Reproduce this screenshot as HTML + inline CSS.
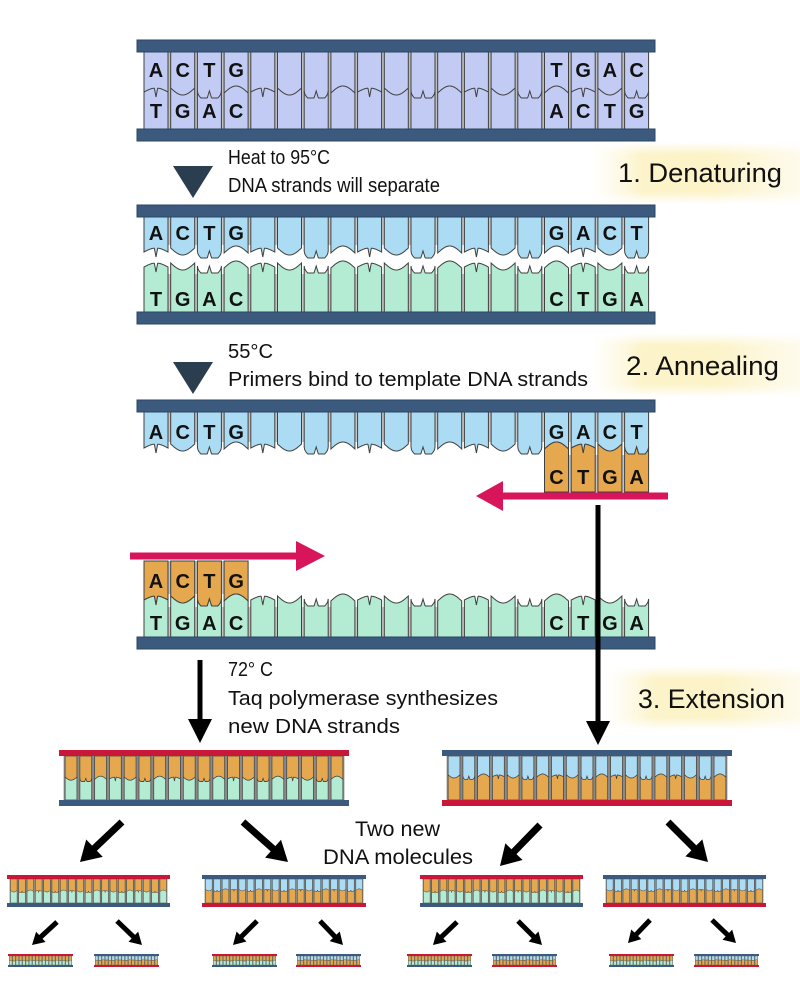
<!DOCTYPE html>
<html><head><meta charset="utf-8">
<style>
html,body{margin:0;padding:0;background:#fff;}
svg{display:block;}
text{font-family:"Liberation Sans",sans-serif;fill:#111;}
.b{font-weight:bold;font-size:20px;text-anchor:middle;}
</style></head>
<body>
<svg id="s" width="800" height="998" viewBox="0 0 800 998" xmlns="http://www.w3.org/2000/svg">
<defs>
<linearGradient id="gh" x1="0" y1="0" x2="1" y2="0">
<stop offset="0" stop-color="#fdf6d6" stop-opacity="0"/>
<stop offset="0.25" stop-color="#fcf2c4" stop-opacity="0.9"/>
<stop offset="0.6" stop-color="#fcf3c8" stop-opacity="1"/>
<stop offset="1" stop-color="#fefaea" stop-opacity="0.9"/>
</linearGradient>
<linearGradient id="gv" x1="0" y1="0" x2="0" y2="1">
<stop offset="0" stop-color="#fff" stop-opacity="0"/>
<stop offset="0.2" stop-color="#fff" stop-opacity="1"/>
<stop offset="0.8" stop-color="#fff" stop-opacity="1"/>
<stop offset="1" stop-color="#fff" stop-opacity="0"/>
</linearGradient>
<mask id="mv" maskContentUnits="objectBoundingBox">
<rect x="0" y="0" width="1" height="1" fill="url(#gv)"/>
</mask>
</defs>
<rect x="590" y="142" width="210" height="62" fill="url(#gh)" mask="url(#mv)"/>
<rect x="590" y="333" width="210" height="64" fill="url(#gh)" mask="url(#mv)"/>
<rect x="605" y="666" width="195" height="64" fill="url(#gh)" mask="url(#mv)"/>

<g id="shapes"></g>

<!-- triangles -->
<polygon points="173,166 213,166 193,198" fill="#2b3e50"/>
<polygon points="173,362 213,362 193,394" fill="#2b3e50"/>

<!-- labels -->
<text x="228" y="164" font-size="20" textLength="102" lengthAdjust="spacingAndGlyphs">Heat to 95°C</text>
<text x="228" y="192" font-size="20" textLength="212" lengthAdjust="spacingAndGlyphs">DNA strands will separate</text>
<text x="618" y="182" font-size="27" textLength="164" lengthAdjust="spacingAndGlyphs">1. Denaturing</text>

<text x="228" y="358" font-size="20" textLength="45" lengthAdjust="spacingAndGlyphs">55°C</text>
<text x="228" y="386" font-size="20" textLength="360" lengthAdjust="spacingAndGlyphs">Primers bind to template DNA strands</text>
<text x="626" y="375" font-size="27" textLength="153" lengthAdjust="spacingAndGlyphs">2. Annealing</text>

<text x="228" y="676" font-size="20" textLength="45" lengthAdjust="spacingAndGlyphs">72° C</text>
<text x="228" y="705" font-size="20" textLength="270" lengthAdjust="spacingAndGlyphs">Taq polymerase synthesizes</text>
<text x="228" y="733" font-size="20" textLength="172" lengthAdjust="spacingAndGlyphs">new DNA strands</text>
<text x="638" y="708" font-size="27" textLength="147" lengthAdjust="spacingAndGlyphs">3. Extension</text>

<text x="355" y="836" font-size="21" textLength="85" lengthAdjust="spacingAndGlyphs">Two new</text>
<text x="323" y="864" font-size="21" textLength="150" lengthAdjust="spacingAndGlyphs">DNA molecules</text>

<!-- DNA1 letters -->
<text class="b" x="156" y="77">A</text><text class="b" x="182.7" y="77">C</text><text class="b" x="209.4" y="77">T</text><text class="b" x="236.1" y="77">G</text>
<text class="b" x="556.5" y="77">T</text><text class="b" x="583.2" y="77">G</text><text class="b" x="609.9" y="77">A</text><text class="b" x="636.6" y="77">C</text>
<text class="b" x="156" y="118">T</text><text class="b" x="182.7" y="118">G</text><text class="b" x="209.4" y="118">A</text><text class="b" x="236.1" y="118">C</text>
<text class="b" x="556.5" y="118">A</text><text class="b" x="583.2" y="118">C</text><text class="b" x="609.9" y="118">T</text><text class="b" x="636.6" y="118">G</text>
<!-- DNA2 letters -->
<text class="b" x="156" y="240">A</text><text class="b" x="182.7" y="240">C</text><text class="b" x="209.4" y="240">T</text><text class="b" x="236.1" y="240">G</text>
<text class="b" x="556.5" y="240">G</text><text class="b" x="583.2" y="240">A</text><text class="b" x="609.9" y="240">C</text><text class="b" x="636.6" y="240">T</text>
<text class="b" x="156" y="306">T</text><text class="b" x="182.7" y="306">G</text><text class="b" x="209.4" y="306">A</text><text class="b" x="236.1" y="306">C</text>
<text class="b" x="556.5" y="306">C</text><text class="b" x="583.2" y="306">T</text><text class="b" x="609.9" y="306">G</text><text class="b" x="636.6" y="306">A</text>
<!-- DNA3 letters -->
<text class="b" x="156" y="439">A</text><text class="b" x="182.7" y="439">C</text><text class="b" x="209.4" y="439">T</text><text class="b" x="236.1" y="439">G</text>
<text class="b" x="556.5" y="439">G</text><text class="b" x="583.2" y="439">A</text><text class="b" x="609.9" y="439">C</text><text class="b" x="636.6" y="439">T</text>
<text class="b" x="556.5" y="484">C</text><text class="b" x="583.2" y="484">T</text><text class="b" x="609.9" y="484">G</text><text class="b" x="636.6" y="484">A</text>
<!-- DNA4 letters -->
<text class="b" x="156" y="588">A</text><text class="b" x="182.7" y="588">C</text><text class="b" x="209.4" y="588">T</text><text class="b" x="236.1" y="588">G</text>
<text class="b" x="156" y="630">T</text><text class="b" x="182.7" y="630">G</text><text class="b" x="209.4" y="630">A</text><text class="b" x="236.1" y="630">C</text>
<text class="b" x="556.5" y="630">C</text><text class="b" x="583.2" y="630">T</text><text class="b" x="609.9" y="630">G</text><text class="b" x="636.6" y="630">A</text>
</svg>
<script>
(function(){
const NS="http://www.w3.org/2000/svg";
const G=document.getElementById('shapes');
function el(tag,a){const e=document.createElementNS(NS,tag);for(const k in a)e.setAttribute(k,a[k]);G.appendChild(e);return e;}
const PERI="#c2cbf4",LB="#acdcf4",GR="#b3ebd3",OR="#e6a84f",NAVY="#3b5a7d",NAVYD="#2c4562",RED="#c9173a",PINK="#d8145a",ST="#404040";
const TYPES="ACTG";
const P=26.7,W=24,X0=144;
function prof(t,u){
  let y,d;
  if(t==='A'){y=2-4*Math.sin(Math.PI*u);d=Math.abs(u-0.5);if(d<0.07)y+=(1-d/0.07)*9;}
  else if(t==='C'){y=-2+7*Math.sin(Math.PI*u);}
  else if(t==='T'){const e=Math.min(1,u/0.15,(1-u)/0.15);y=1+7*Math.sqrt(Math.max(0,e));d=Math.abs(u-0.5);if(d<0.09)y-=(1-d/0.09)*7;}
  else {y=3-7*Math.sin(Math.PI*u);}
  return y;
}
function edge(t,x0,w,yi,s){const pts=[];const N=60;for(let k=0;k<=N;k++){const u=k/N;pts.push([x0+u*w,yi+prof(t,u)*s]);}return pts;}
function ps(pts){return pts.map(p=>p[0].toFixed(2)+","+p[1].toFixed(2)).join(" ");}
function topBase(t,x0,w,ytop,yi,s,fill,sw){
  const e=edge(t,x0,w,yi,s).reverse();
  el('polygon',{points:ps([[x0,ytop],[x0+w,ytop]].concat(e)),fill:fill,stroke:ST,'stroke-width':sw||1});
}
function botBase(t,x0,w,yi,ybot,s,fill,sw){
  const e=edge(t,x0,w,yi,s);
  el('polygon',{points:ps(e.concat([[x0+w,ybot],[x0,ybot]])),fill:fill,stroke:ST,'stroke-width':sw||1});
}
function bar(x,y,w,h,c,d){el('rect',{x:x,y:y,width:w,height:h,fill:c,stroke:d||'none','stroke-width':1});}
function arrow(x1,y1,x2,y2,lw,hl,hw,c){
  const dx=x2-x1,dy=y2-y1,L=Math.hypot(dx,dy),ux=dx/L,uy=dy/L,nx=-uy,ny=ux;
  const mx=x2-ux*hl,my=y2-uy*hl;
  const pts=[[x1+nx*lw/2,y1+ny*lw/2],[mx+nx*lw/2,my+ny*lw/2],[mx+nx*hw/2,my+ny*hw/2],[x2,y2],[mx-nx*hw/2,my-ny*hw/2],[mx-nx*lw/2,my-ny*lw/2],[x1-nx*lw/2,y1-ny*lw/2]];
  el('polygon',{points:ps(pts),fill:c});
}
// DNA1
bar(X0,52,18*P+W,77,"#bdbdbd");
for(let i=0;i<19;i++){const x=X0+i*P;el('rect',{x:x,y:52,width:W,height:77,fill:PERI,stroke:ST,'stroke-width':1});}
for(let i=0;i<19;i++){const x=X0+i*P;el('polyline',{points:ps(edge(TYPES[i%4],x,W,90,1)),fill:'none',stroke:ST,'stroke-width':1});}
bar(137,40,518,12,NAVY,NAVYD);bar(137,129,518,12,NAVY,NAVYD);
// DNA2
bar(X0,217,18*P+W,28,"#c4c4c4");bar(X0,274,18*P+W,38,"#c4c4c4");
for(let i=0;i<19;i++){const x=X0+i*P,t=TYPES[i%4];topBase(t,x,W,217,250,1,LB);botBase(t,x,W,265,312,1,GR);}
bar(137,205,518,12,NAVY,NAVYD);bar(137,312,518,12,NAVY,NAVYD);
// DNA3
bar(X0,412,18*P+W,30,"#c4c4c4");bar(X0+15*P,455,3*P+W,37,"#c4c4c4");
for(let i=0;i<19;i++){const x=X0+i*P,t=TYPES[i%4];topBase(t,x,W,412,446,1,LB);if(i>=15)botBase(t,x,W,446,492,1,OR);}
bar(137,400,518,12,NAVY,NAVYD);
arrow(668,496,476,496,7,27,30,PINK);
// DNA4
bar(X0,561,3*P+W,33,"#c4c4c4");bar(X0,607,18*P+W,30,"#c4c4c4");
for(let i=0;i<19;i++){const x=X0+i*P,t=TYPES[i%4];if(i<4)topBase(t,x,W,561,598,1,OR);botBase(t,x,W,598,637,1,GR);}
bar(137,637,518,12,NAVY,NAVYD);
arrow(130,556,325,556,7,29,30,PINK);
// black arrows
arrow(598,505,598,745,5,24,24,"#000");
arrow(200,660,200,743,5,24,24,"#000");
// small DNA
function smallDNA(x,y,w,h,bh,tb,up,lo,bb,frac,s,sw){
  const y0=y+bh,y1=y+h-bh,inset=w*0.016,p=(w-2*inset)/19,cw=p*0.8;
  bar(x+inset,y0,w-2*inset,y1-y0,"#8a8a8a");
  const yi=y0+frac*(y1-y0);
  for(let i=0;i<19;i++){const cx=x+inset+i*p+(p-cw)/2,t=TYPES[(i+1)%4];
    topBase(t,cx,cw,y0,yi,s,up,sw);botBase(t,cx,cw,yi,y1,s,lo,sw);}
  bar(x,y,w,bh,tb);bar(x,y1,w,bh,bb);
}
smallDNA(59,750,290,56,6,RED,OR,GR,NAVY,0.5,0.45,0.7);
smallDNA(442,750,290,56,6,NAVY,LB,OR,RED,0.45,0.45,0.7);
smallDNA(7,875,163,32,4,RED,OR,GR,NAVY,0.5,0.22,0.5);
smallDNA(202,875,164,32,4,NAVY,LB,OR,RED,0.45,0.22,0.5);
smallDNA(420,875,163,32,4,RED,OR,GR,NAVY,0.5,0.22,0.5);
smallDNA(603,875,163,32,4,NAVY,LB,OR,RED,0.45,0.22,0.5);
const tx=[8,94,212,296,407,492,609,694];
tx.forEach((x,k)=>{if(k%2===0)smallDNA(x,954,65,13,2,RED,OR,GR,NAVY,0.5,0.08,0.3);else smallDNA(x,954,65,13,2,NAVY,LB,OR,RED,0.45,0.08,0.3);});
// diagonal arrows
arrow(122,822,80,862,7,20,24,"#000");
arrow(243,822,288,862,7,20,24,"#000");
arrow(540,825,500,866,7,20,24,"#000");
arrow(668,822,708,862,7,20,24,"#000");
const sa=[[57,922,32,945],[117,921,142,945],[257,921,233,945],[320,921,343,945],[457,922,433,945],[518,921,542,945],[650,920,628,943],[712,920,736,943]];
sa.forEach(a=>arrow(a[0],a[1],a[2],a[3],5,12,14,"#000"));
})();
</script>
</body></html>
